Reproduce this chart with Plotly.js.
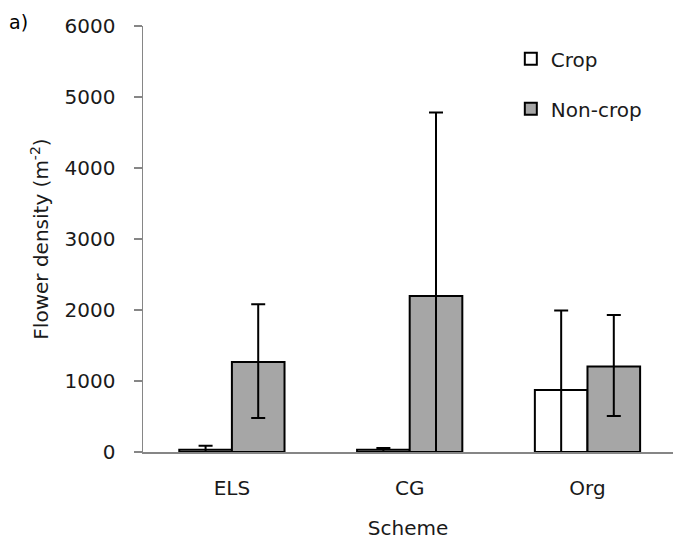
<!DOCTYPE html>
<html>
<head>
<meta charset="utf-8">
<script src="https://cdn.plot.ly/plotly-3.0.1.min.js"></script>
<style>html,body{margin:0;padding:0;background:#fff;}#chart{width:673px;height:540px;}</style>
</head>
<body>
<div id="chart"></div>
<script>
const categories = ['ELS', 'CG', 'Org'];
const cropValues = [30, 30, 872];
const cropErrPlus = [58, 28, 1120];
const cropErrMinus = [30, 30, 872];
const nonCropValues = [1266, 2198, 1204];
const nonCropErrPlus = [816, 2582, 727];
const nonCropErrMinus = [788, 2198, 698];
const yTickValues = [0, 1000, 2000, 3000, 4000, 5000, 6000];

const FONT = 'DejaVu Sans, sans-serif';
const TXT = '#1a1a1a';
const FS = 20;

const traces = [
  {
    type: 'bar', name: 'Crop', x: categories, y: cropValues,
    legendgroup: 'a',
    marker: {color: '#ffffff', line: {color: '#000000', width: 2}},
    error_y: {type: 'data', symmetric: false, array: cropErrPlus, arrayminus: cropErrMinus,
              color: '#000000', thickness: 2, width: 7}
  },
  {
    type: 'bar', name: 'Non-crop', x: categories, y: nonCropValues,
    legendgroup: 'b',
    marker: {color: '#a6a6a6', line: {color: '#000000', width: 2}},
    error_y: {type: 'data', symmetric: false, array: nonCropErrPlus, arrayminus: nonCropErrMinus,
              color: '#000000', thickness: 2, width: 7}
  }
];

const layout = {
  width: 673, height: 540,
  margin: {l: 143, r: 0, t: 26, b: 88, pad: 0},
  paper_bgcolor: '#ffffff', plot_bgcolor: '#ffffff',
  font: {family: FONT, size: FS, color: TXT},
  barmode: 'group', bargap: 0.408, bargroupgap: 0,
  showlegend: true,
  legend: {
    x: 0.694, y: 0.969, xanchor: 'left', yanchor: 'top',
    font: {family: FONT, size: FS, color: TXT},
    bgcolor: 'rgba(0,0,0,0)', tracegroupgap: 21, traceorder: 'grouped'
  },
  xaxis: {
    type: 'category', range: [-0.5, 2.481],
    showline: true, linecolor: '#868686', linewidth: 1.5,
    ticks: '', showgrid: false, zeroline: false,
    tickfont: {family: FONT, size: FS, color: TXT},
    ticklabelstandoff: 17,
    title: {text: 'Scheme', font: {family: FONT, size: FS, color: TXT}, standoff: 23}
  },
  yaxis: {
    range: [0, 6000], tickvals: yTickValues,
    showline: true, linecolor: '#868686', linewidth: 1.5,
    ticks: 'outside', ticklen: 8, tickcolor: '#868686', tickwidth: 1.5,
    showgrid: false, zeroline: false,
    tickfont: {family: FONT, size: FS, color: TXT},
    ticklabelstandoff: 14,
    title: {text: 'Flower density (m<sup>-2</sup>)', font: {family: FONT, size: FS, color: TXT}, standoff: 10}
  },
  annotations: [
    {text: 'a)', xref: 'paper', yref: 'paper', x: -0.256, y: 1.01, xanchor: 'left', yanchor: 'middle',
     showarrow: false, font: {family: FONT, size: 19, color: '#000'}}
  ]
};

Plotly.newPlot('chart', traces, layout, {displayModeBar: false, staticPlot: true});
</script>
</body>
</html>
